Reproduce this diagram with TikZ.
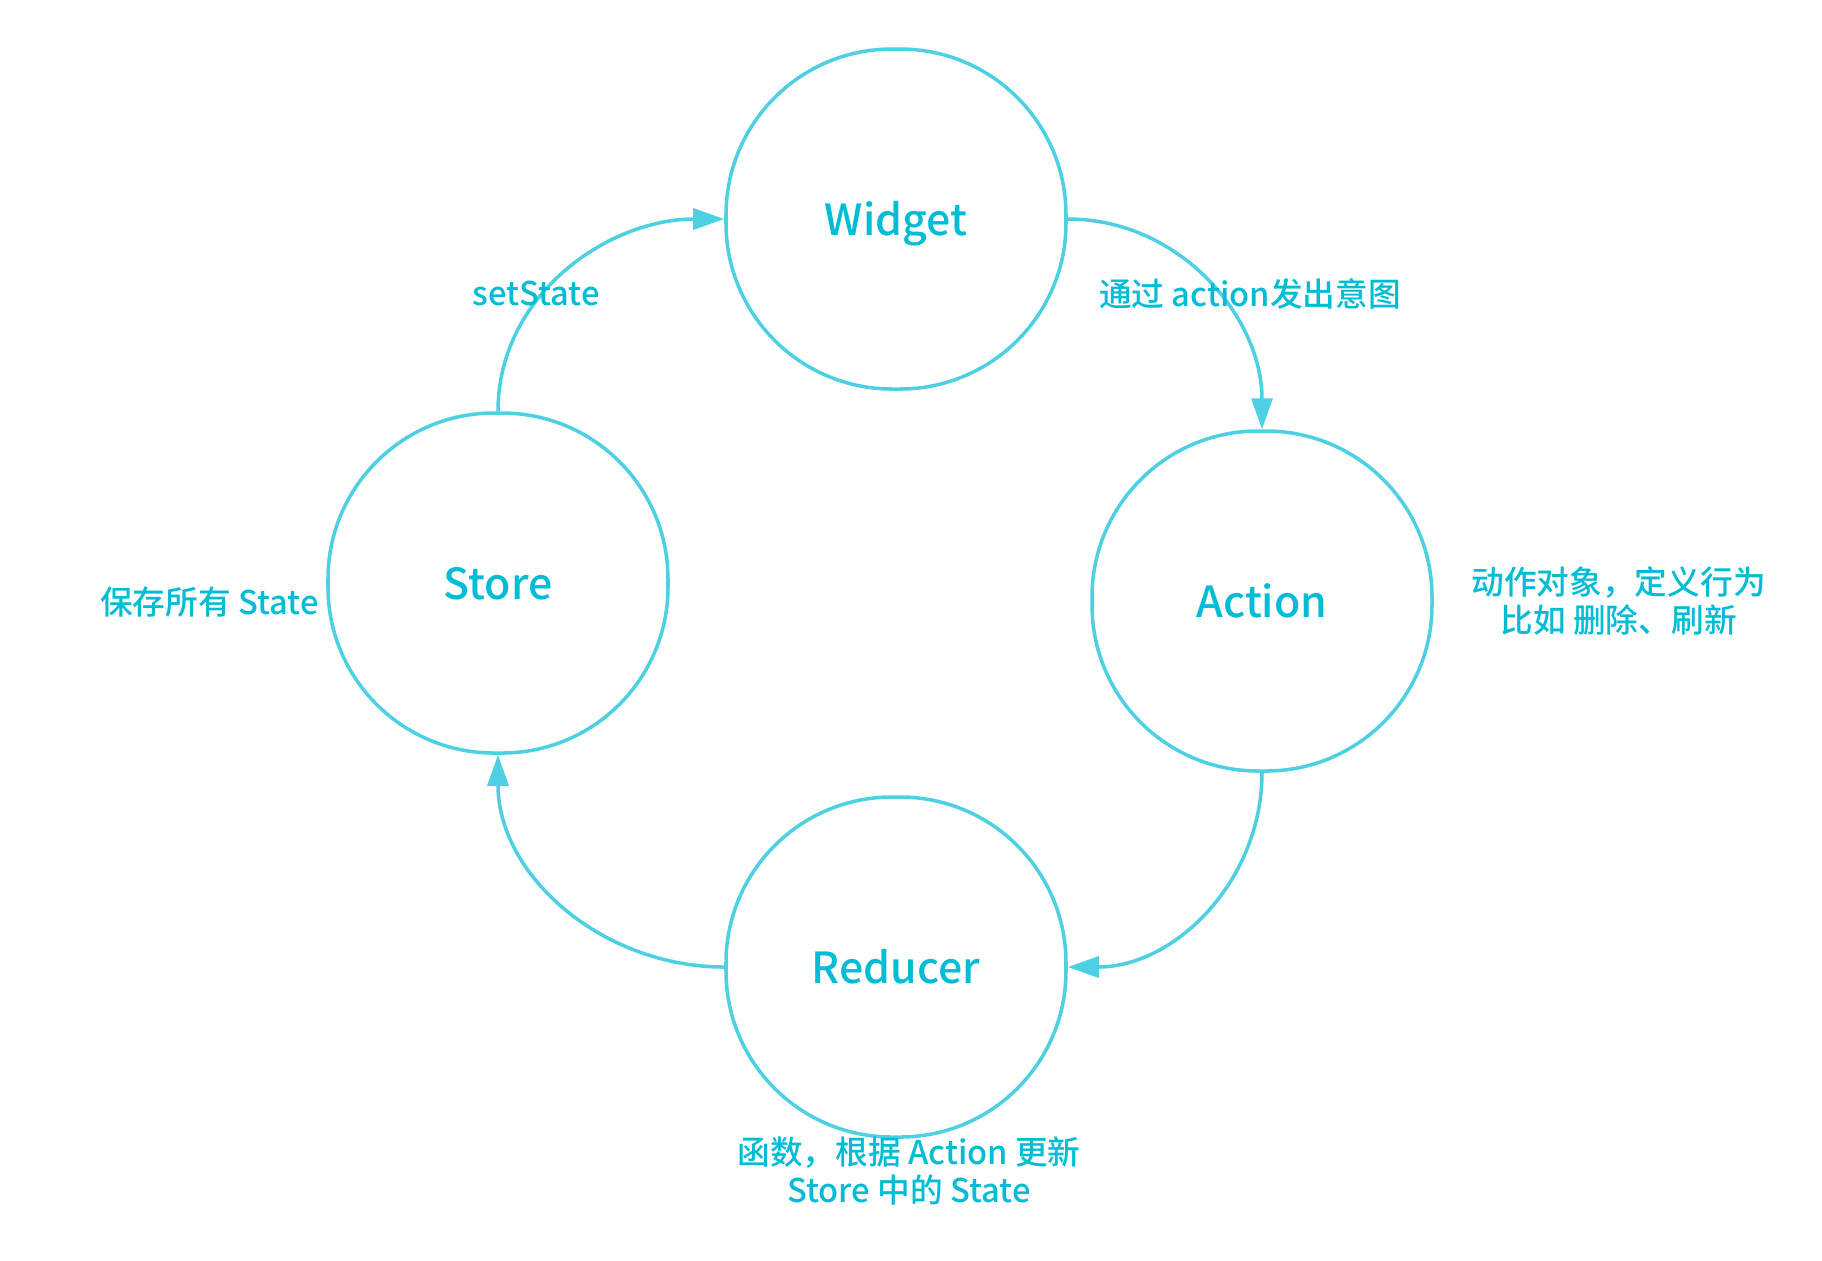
\documentclass[tikz,border=0pt]{standalone}
\usepackage{fontspec}
\setmainfont{Noto Sans CJK SC}
\newfontfamily\nodefont{Noto Sans CJK SC}[UprightFont=* Medium]
\usetikzlibrary{positioning, arrows.meta}
\definecolor{linecyan}{HTML}{4DD0E1}
\definecolor{labelcyan}{HTML}{00BCD4}

\begin{document}
\begin{tikzpicture}[->, >={Triangle[length=3.1mm, width=2.1mm]}, line width=1pt,
	main/.style = {rectangle, rounded corners=1.66cm, draw=linecyan, minimum size=3.4cm, on grid, text=labelcyan, text height=9.4pt, text depth=0pt, font=\fontsize{12.2}{14}\nodefont},
	note/.style = {inner sep=0pt, text=labelcyan, align=center, font=\fontsize{9.3}{10.8}\nodefont}]
			\useasboundingbox (-8.96,2.19) rectangle (9.26,-10.41);
			\node[main] (widget) {Widget};
			\node[main, below left=3.64cm and 3.98cm of widget] (store) {Store};
			\node[main, below right=3.82cm and 3.66cm of widget] (action) {Action};
			\node[main, below=7.48cm of widget] (reducer) {Reducer};
			\node[note, left=0.06cm of store, yshift=-0.19cm] (storenote) {保存所有 State};
			\node[note, right=0.36cm of action] (actionnote) {动作对象，定义行为\\比如 删除、刷新};
			\node[note, below=-0.04cm of reducer, xshift=0.13cm] (reducernote) {函数，根据 Action 更新\\Store 中的 State};
			\path[color=linecyan]
				(widget.east) edge[out=0, in=90] node[note, pos=0.5, xshift=0.43cm, yshift=-0.12cm] {通过 action发出意图} (action.north)
				(action.south) edge[out=-90, in=0] (reducer.east)
				(reducer.west) edge[out=180, in=-90] (store.south)
				(store.north) edge[out=90, in=180] node[note, pos=0.4, xshift=-0.08cm] {setState} (widget.west);
		\end{tikzpicture}
\end{document}
